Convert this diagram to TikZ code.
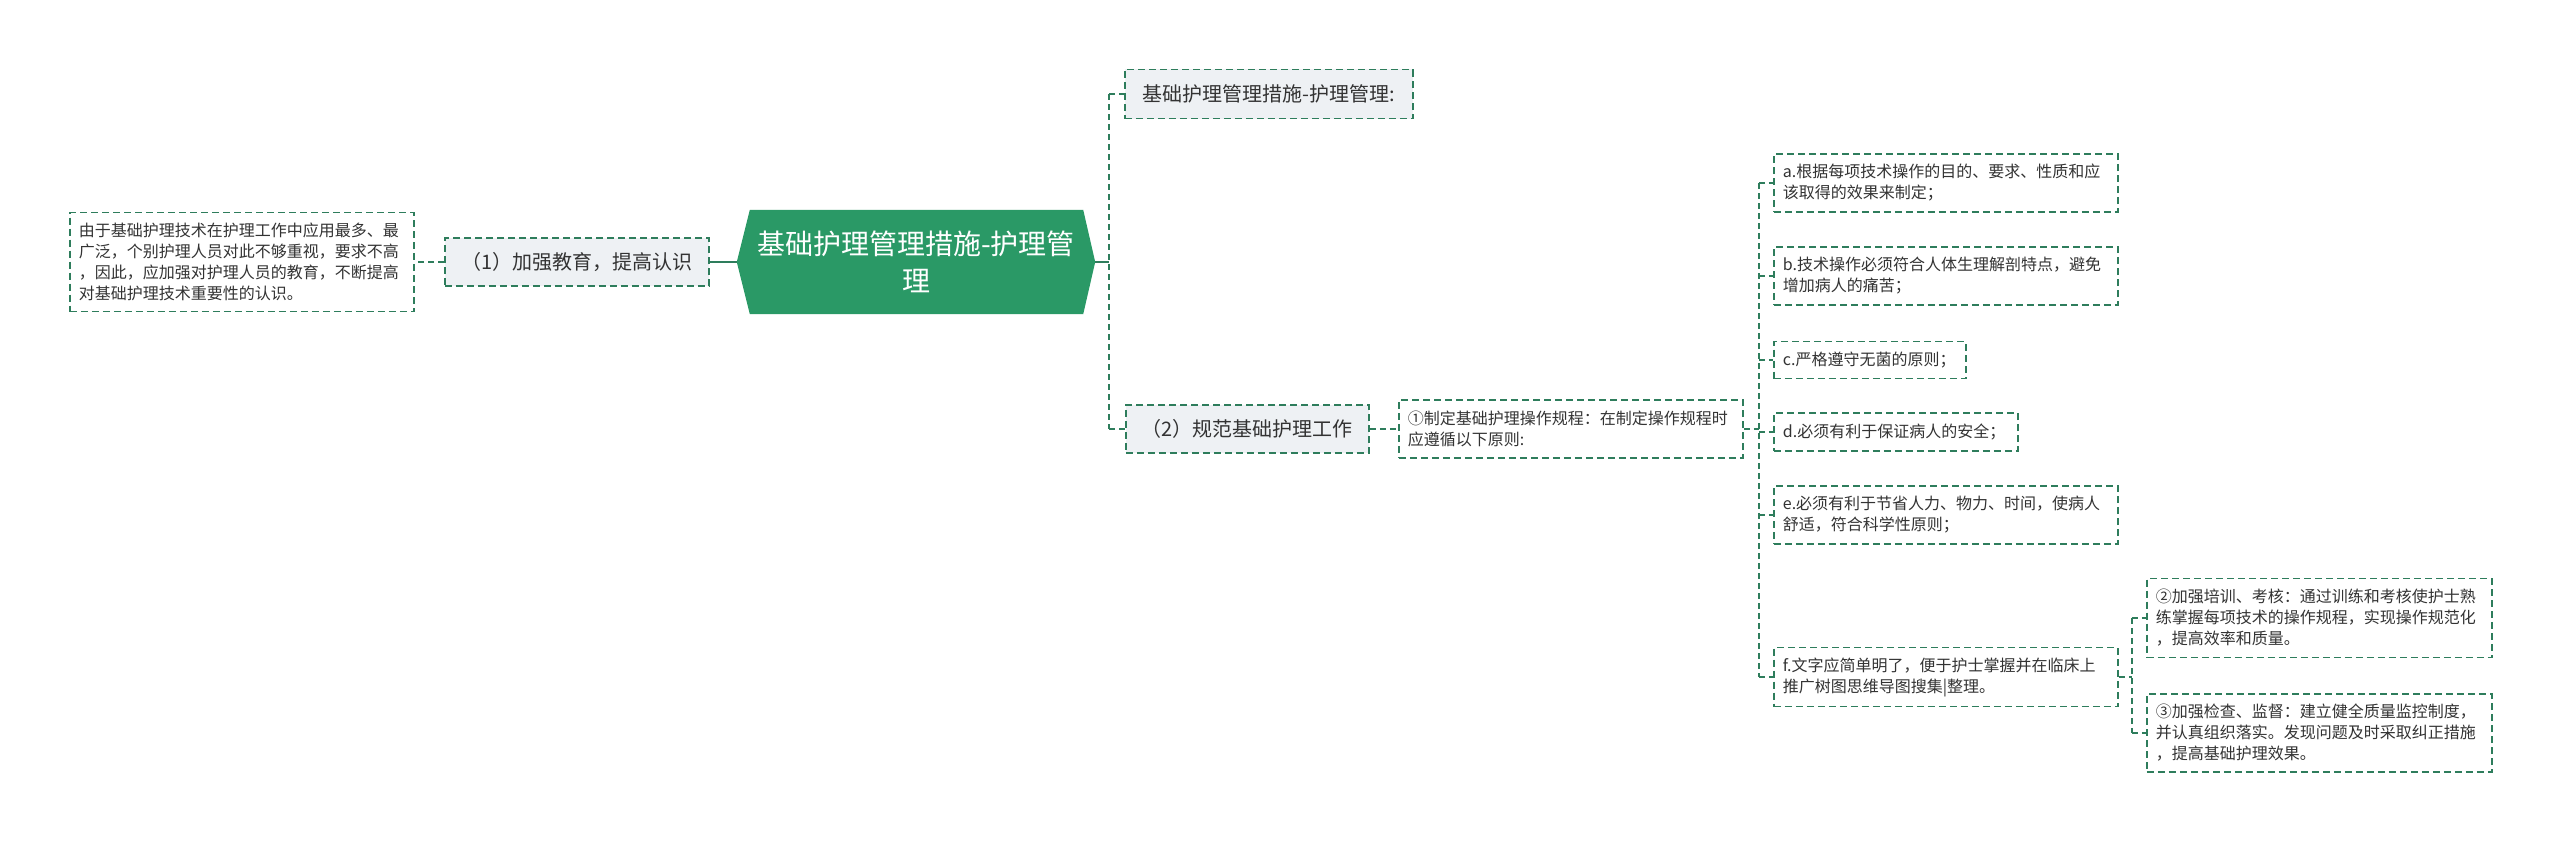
\documentclass[tikz,border=0pt]{standalone}
\usepackage{fontspec}
\setmainfont{Noto Sans CJK SC}
\usetikzlibrary{backgrounds,calc}
\definecolor{edgeg}{HTML}{2E7D5C}
\definecolor{rootg}{HTML}{2A9966}
\definecolor{boxg}{HTML}{EEF1F4}
\definecolor{txtc}{HTML}{333333}
\tikzset{
  box/.style={draw=edgeg, line width=1.8pt, dash pattern=on 7pt off 4pt, anchor=west, inner ysep=0pt, text=txtc},
  leaf/.style={box, fill=white, inner xsep=9pt, font=\fontsize{16}{21}\selectfont, align=left, text width=#1},
  midbox/.style={box, fill=boxg, inner xsep=0pt, font=\fontsize{20}{26}\selectfont},
  conn/.style={draw=edgeg, line width=1.8pt, dash pattern=on 6pt off 4pt},
  solidconn/.style={draw=edgeg, line width=2.2pt},
}
\begin{document}
\begin{tikzpicture}[x=1pt,y=-1pt]
\useasboundingbox (0,0) rectangle (2560,843);

% root
\node[minimum width=358pt, minimum height=104pt, inner sep=0pt, text=white,
      font=\fontsize{28}{37}\selectfont, align=center] (root) at (916,262)
      {基础护理管理措施-护理管\\理};
\begin{scope}[on background layer]
\fill[white] (0,0) rectangle (2560,843);
\fill[rootg] (root.west) -- ([xshift=13pt]root.north west) -- ([xshift=-12pt]root.north east)
  -- (root.east) -- ([xshift=-12pt]root.south east) -- ([xshift=13pt]root.south west) -- cycle;
\end{scope}

% left branch
\node[midbox, minimum width=264pt, minimum height=48pt] (n1) at (444,262) {（1）加强教育，提高认识};
\node[leaf=326pt, minimum height=99pt] (L) at (69,262)
  {由于基础护理技术在护理工作中应用最多、最\\广泛，个别护理人员对此不够重视，要求不高\\，因此，应加强对护理人员的教育，不断提高\\对基础护理技术重要性的认识。};

% right branch
\node[midbox, minimum width=288pt, minimum height=49pt] (top) at (1124,94) {基础护理管理措施-护理管理:};
\node[midbox, minimum width=243pt, minimum height=48pt] (n2) at (1125,429) {（2）规范基础护理工作};
\node[leaf=326pt, minimum height=58pt] (p1) at (1398,429)
  {①制定基础护理操作规程：在制定操作规程时\\应遵循以下原则:};

\node[leaf=326pt, minimum height=58pt] (a) at (1773,183)
  {a.根据每项技术操作的目的、要求、性质和应\\该取得的效果来制定；};
\node[leaf=326pt, minimum height=58pt] (b) at (1773,276)
  {b.技术操作必须符合人体生理解剖特点，避免\\增加病人的痛苦；};
\node[leaf=174pt, minimum height=37pt] (c) at (1773,360) {c.严格遵守无菌的原则；};
\node[leaf=226pt, minimum height=38pt] (d) at (1773,432) {d.必须有利于保证病人的安全；};
\node[leaf=326pt, minimum height=58pt] (e) at (1773,515)
  {e.必须有利于节省人力、物力、时间，使病人\\舒适，符合科学性原则；};
\node[leaf=326pt, minimum height=59pt] (f) at (1773,677)
  {f.文字应简单明了，便于护士掌握并在临床上\\推广树图思维导图搜集|整理。};

\node[leaf=327pt, minimum height=79pt] (g2) at (2146,618)
  {②加强培训、考核：通过训练和考核使护士熟\\练掌握每项技术的操作规程，实现操作规范化\\，提高效率和质量。};
\node[leaf=327pt, minimum height=78pt] (g3) at (2146,733)
  {③加强检查、监督：建立健全质量监控制度，\\并认真组织落实。发现问题及时采取纠正措施\\，提高基础护理效果。};

% connectors
\draw[solidconn] (root.west) -- (n1.east);
\draw[conn] (n1.west) -- (L.east);

\draw[solidconn] (root.east) -- ++(14,0) coordinate (rt);
\draw[conn] (rt |- top.west) -- (rt |- n2.west);
\draw[conn] (rt |- top.west) -- (top.west);
\draw[conn] (rt |- n2.west) -- (n2.west);
\draw[conn] (n2.east) -- (p1.west);

\coordinate (pt) at ([xshift=15pt]p1.east);
\draw[conn] (p1.east) -- (pt);
\draw[conn] (pt |- a.west) -- (pt |- f.west);
\foreach \k in {a,b,c,d,e,f} \draw[conn] (pt |- \k.west) -- (\k.west);

\coordinate (ft) at ([xshift=13pt]f.east);
\draw[conn] (f.east) -- (ft);
\draw[conn] (ft |- g2.west) -- (ft |- g3.west);
\draw[conn] (ft |- g2.west) -- (g2.west);
\draw[conn] (ft |- g3.west) -- (g3.west);
\end{tikzpicture}
\end{document}
